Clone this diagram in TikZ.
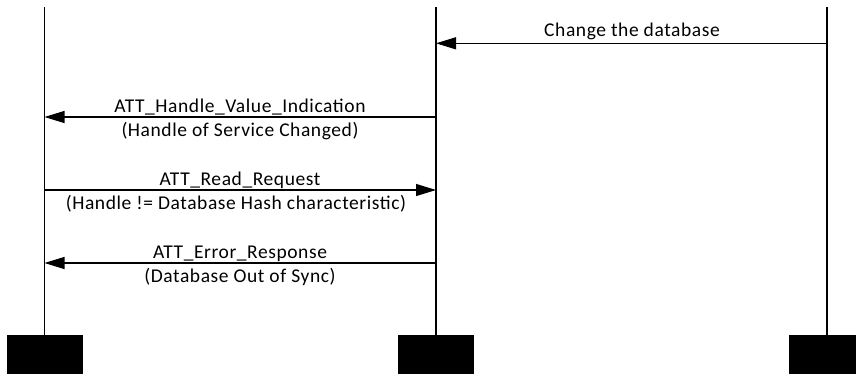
\documentclass[tikz,border=0pt]{standalone}
\usepackage{fontspec}
\setmainfont[LetterSpace=3]{Carlito}
\usetikzlibrary{arrows.meta}
\begin{document}
\begin{tikzpicture}[x=1pt,y=-1pt,
  life/.style={line width=1.2pt},
  msg/.style={line width=1.2pt,-{Triangle[length=20pt,width=12pt]}},
  lbl/.style={font=\fontsize{19.5}{22}\selectfont, anchor=base, inner sep=0pt},
  actor/.style={fill=black, draw=none, minimum width=76pt, minimum height=60pt, anchor=north, inner sep=0pt}]
\useasboundingbox (0,0) rectangle (856,373);
\begin{scope}
\clip (0,0) rectangle (856,373);
\node[actor] (A) at (44.5,335) {};
\node[actor] (B) at (436,335) {};
\node[actor] (C) at (827,335) {};
\end{scope}
\coordinate (top) at (0,7);
\coordinate (y1) at (0,43.3);
\coordinate (y2) at (0,117);
\coordinate (y3) at (0,190);
\coordinate (y4) at (0,263);
\draw[life] (A.north |- top) -- (A.north);
\draw[life] (B.north |- top) -- (B.north);
\draw[life] (C.north |- top) -- (C.north);
\draw[msg] (C.north |- y1) -- (B.north |- y1);
\draw[msg] (B.north |- y2) -- (A.north |- y2);
\draw[msg] (A.north |- y3) -- (B.north |- y3);
\draw[msg] (B.north |- y4) -- (A.north |- y4);
\node[lbl] (t1) at (632,36.7) {Change the database};
\node[lbl] (t2) at (240,112) {ATT\_Handle\_Value\_Indication};
\node[lbl] (t2b) at (240,136) {(Handle of Service Changed)};
\node[lbl] (t3) at (240,185.5) {ATT\_Read\_Request};
\node[lbl] (t3b) at (236,209.5) {(Handle != Database Hash characteristic)};
\node[lbl] (t4) at (240,258.5) {ATT\_Error\_Response};
\node[lbl] (t4b) at (240,282) {(Database Out of Sync)};
\end{tikzpicture}
\end{document}
